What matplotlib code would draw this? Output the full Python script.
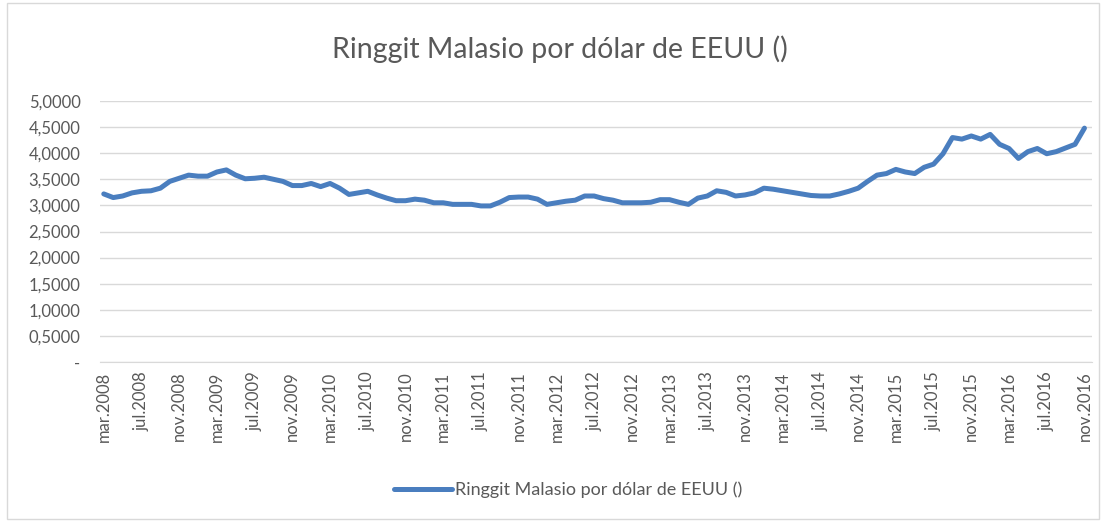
import matplotlib.pyplot as plt
from matplotlib.patches import Rectangle

# Ringgit malasio por dólar, mensual mar.2008 - nov.2016
valores = [
    3.22, 3.15, 3.18, 3.24, 3.27, 3.28, 3.33, 3.46, 3.52, 3.58,
    3.56, 3.56, 3.64, 3.68, 3.58, 3.51, 3.52, 3.54, 3.50, 3.46,
    3.38, 3.38, 3.42, 3.36, 3.42, 3.33, 3.21, 3.24, 3.27, 3.20,
    3.14, 3.09, 3.09, 3.12, 3.10, 3.05, 3.05, 3.02, 3.02, 3.02,
    2.99, 2.99, 3.06, 3.15, 3.16, 3.16, 3.12, 3.02, 3.05, 3.08,
    3.10, 3.18, 3.18, 3.13, 3.10, 3.05, 3.05, 3.05, 3.06, 3.11,
    3.11, 3.06, 3.02, 3.14, 3.18, 3.28, 3.25, 3.18, 3.20, 3.24,
    3.33, 3.31, 3.28, 3.25, 3.22, 3.19, 3.18, 3.18, 3.22, 3.27,
    3.33, 3.46, 3.58, 3.61, 3.69, 3.64, 3.61, 3.73, 3.79, 3.99,
    4.30, 4.27, 4.33, 4.27, 4.36, 4.17, 4.09, 3.90, 4.03, 4.09,
    3.99, 4.03, 4.10, 4.17, 4.48,
]
meses = ["ene", "feb", "mar", "abr", "may", "jun",
         "jul", "ago", "sep", "oct", "nov", "dic"]
etiquetas = [f"{meses[(2 + i) % 12]}.{2008 + (2 + i) // 12}" for i in range(len(valores))]
yticks = [0, 0.5, 1, 1.5, 2, 2.5, 3, 3.5, 4, 4.5, 5]
titulo = "Ringgit Malasio por dólar de EEUU ()"

plt.rcParams["font.family"] = ["Lato", "DejaVu Sans"]
gris = "#595959"
azul = "#4a7ebf"

fig = plt.figure(figsize=(11.03, 5.21), dpi=100)
fig.patches.append(Rectangle((0.006, 0.004), 0.99, 0.99, transform=fig.transFigure,
                             fill=False, edgecolor="#d9d9d9", linewidth=1))
ax = fig.add_axes([100 / 1103, 159 / 521, 992 / 1103, 261 / 521])

x = list(range(len(valores)))
ax.plot(x, valores, color=azul, linewidth=3.6, solid_capstyle="round",
        label=titulo)

ax.set_xlim(-0.4, 104.8)
ax.set_ylim(0, 5)
ax.set_yticks(yticks)
ax.set_yticklabels(["-"] + [f"{v:.4f}".replace(".", ",") for v in yticks[1:]])
ax.set_xticks(x[::4])
ax.set_xticklabels(etiquetas[::4], rotation=90)
ax.tick_params(axis="both", length=0, labelsize=12, colors=gris)
ax.tick_params(axis="y", pad=14)
ax.tick_params(axis="x", pad=7)

ax.grid(axis="y", color="#d9d9d9", linewidth=1)
ax.set_axisbelow(True)
for s in ["top", "right", "left"]:
    ax.spines[s].set_visible(False)
ax.spines["bottom"].set_color("#d9d9d9")

fig.text(0.508, 0.905, titulo, ha="center", va="center", fontsize=20.5, color=gris)
fig.legend(loc="center", bbox_to_anchor=(0.515, 0.06), frameon=False,
           fontsize=13, labelcolor=gris, handlelength=3.2, handletextpad=0.15)

fig.savefig("out.png", dpi=100)
